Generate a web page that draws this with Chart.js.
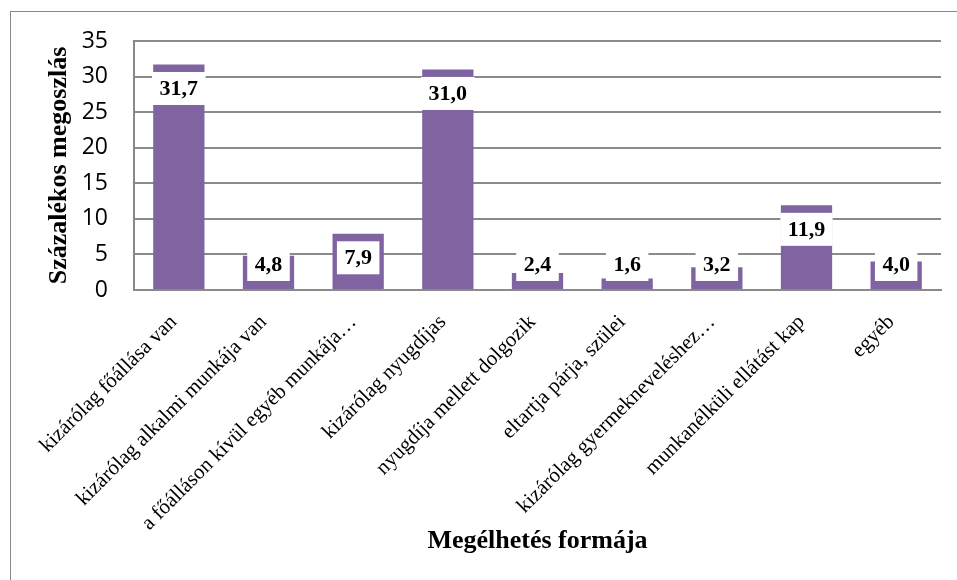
<!DOCTYPE html>
<html lang="hu">
<head>
  <meta charset="UTF-8">
  <title>Megélhetés formája</title>
  <style>
    body {
      margin: 0;
      background: #fff;
      overflow: hidden;
    }

    .frame {
      position: absolute;
      left: 10px;
      top: 11px;
      width: 980px;
      height: 600px;
      border: 1px solid #888;
    }

    .wrap {
      position: absolute;
      left: 0;
      top: 0;
      width: 957px;
      height: 580px;
    }
  </style>
</head>
<body>

<div class="frame"></div>
<div class="wrap">
  <canvas id="chart" width="957" height="580"></canvas>
</div>

<script src="https://cdn.jsdelivr.net/npm/chart.js"></script>
<script>
const categories = [
  "kizárólag főállása van",
  "kizárólag alkalmi munkája van",
  "a főálláson kívül egyéb munkája…",
  "kizárólag nyugdíjas",
  "nyugdíja mellett dolgozik",
  "eltartja párja, szülei",
  "kizárólag gyermekneveléshez…",
  "munkanélküli ellátást kap",
  "egyéb"
];
const values = [31.7, 4.8, 7.9, 31.0, 2.4, 1.6, 3.2, 11.9, 4.0];
const yMax = 35;
const yStep = 5;
const yTitle = "Százalékos megoszlás";
const xTitle = "Megélhetés formája";

const serif = "'Liberation Serif', 'Times New Roman', serif";
const gridColor = "#8a8a8a";

// fehér dobozos értékcímkék az oszlopok tetején belül
const valueLabels = {
  id: "valueLabels",
  afterDatasetsDraw(chart) {
    const ctx = chart.ctx;
    const meta = chart.getDatasetMeta(0);
    ctx.save();
    ctx.font = "bold 22px " + serif;
    ctx.textAlign = "center";
    ctx.textBaseline = "middle";
    meta.data.forEach((bar, i) => {
      const txt = values[i].toFixed(1).replace(".", ",");
      const w = ctx.measureText(txt).width + 15;
      const h = 33;
      let top = bar.y + 7.5;
      if (top + h > bar.base - 8) top = bar.base - 8 - h;
      ctx.fillStyle = "#fff";
      ctx.fillRect(bar.x - w / 2, top, w, h);
      ctx.fillStyle = "#000";
      ctx.fillText(txt, bar.x, top + h / 2 + 1);
    });
    ctx.restore();
  }
};

new Chart(document.getElementById("chart"), {
  type: "bar",
  data: {
    labels: categories,
    datasets: [{
      data: values,
      backgroundColor: "#8064A2",
      barPercentage: 0.572,
      categoryPercentage: 1
    }]
  },
  options: {
    responsive: false,
    devicePixelRatio: 1,
    animation: false,
    layout: { padding: { left: 40, top: 41, right: 16, bottom: 20 } },
    plugins: {
      legend: { display: false },
      tooltip: { enabled: false }
    },
    scales: {
      x: {
        grid: { display: false },
        border: { display: true, color: gridColor, width: 2 },
        ticks: {
          color: "#000",
          font: { family: serif, size: 21 },
          minRotation: 45,
          maxRotation: 45,
          autoSkip: false,
          padding: 12,
          labelOffset: -5
        },
        title: {
          display: true,
          text: xTitle,
          color: "#000",
          font: { family: serif, size: 26, weight: "bold" },
          padding: { top: 0, bottom: 3 }
        },
        afterFit(scale) { scale.height = 270; }
      },
      y: {
        min: 0,
        max: yMax,
        grid: { color: gridColor, lineWidth: 2, drawTicks: false },
        border: { display: true, color: gridColor, width: 2 },
        ticks: {
          stepSize: yStep,
          color: "#000",
          font: { family: "'Open Sans', sans-serif", size: 23 },
          padding: 26
        },
        title: {
          display: true,
          text: yTitle,
          color: "#000",
          font: { family: serif, size: 26, weight: "bold" },
          padding: { top: 4, bottom: 0 }
        },
        afterFit(scale) { scale.width = 94; }
      }
    }
  },
  plugins: [valueLabels]
});
</script>
</body>
</html>
